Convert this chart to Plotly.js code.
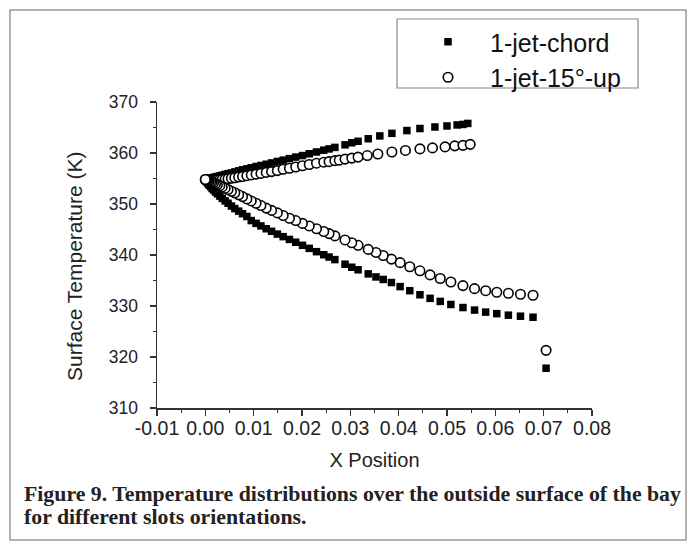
<!DOCTYPE html>
<html>
<head>
<meta charset="utf-8">
<script src="https://cdn.plot.ly/plotly-3.0.1.min.js"></script>
<style>html,body{margin:0;padding:0;background:#fff;}#chart{width:696px;height:548px;}</style>
</head>
<body>
<div id="chart"></div>
<script>
// ---- data ----
const seriesNames = ["1-jet-chord", "1-jet-15°-up"];

const chordUpperX = [0, 0.0001, 0.0002, 0.0004, 0.0006, 0.0008, 0.0011, 0.0014, 0.0017, 0.0021, 0.0025, 0.0030, 0.0035, 0.0041, 0.0047, 0.0054, 0.0061, 0.0069, 0.0077, 0.0086, 0.0095, 0.0105, 0.0115, 0.0126, 0.0137, 0.0149, 0.0161, 0.0174, 0.0187, 0.0201, 0.0215, 0.0230, 0.0245, 0.0256, 0.0268, 0.0289, 0.0303, 0.0316, 0.0337, 0.0361, 0.0386, 0.0417, 0.0444, 0.0475, 0.0500, 0.0521, 0.0533, 0.0543];
const chordUpperT = [354.8, 354.85, 354.85, 354.9, 354.95, 355.0, 355.1, 355.15, 355.2, 355.3, 355.4, 355.5, 355.65, 355.8, 355.95, 356.1, 356.3, 356.5, 356.7, 356.9, 357.1, 357.35, 357.55, 357.8, 358.05, 358.35, 358.6, 358.9, 359.2, 359.5, 359.85, 360.2, 360.55, 360.8, 361.1, 361.6, 362.0, 362.3, 362.8, 363.35, 363.85, 364.4, 364.8, 365.1, 365.3, 365.5, 365.6, 365.8];

const chordLowerX = [0, 0.0001, 0.0002, 0.0004, 0.0006, 0.0008, 0.0011, 0.0014, 0.0017, 0.0021, 0.0025, 0.0030, 0.0035, 0.0041, 0.0047, 0.0054, 0.0061, 0.0069, 0.0077, 0.0086, 0.0095, 0.0105, 0.0115, 0.0126, 0.0137, 0.0149, 0.0161, 0.0174, 0.0187, 0.0201, 0.0215, 0.0230, 0.0245, 0.0256, 0.0268, 0.0289, 0.0303, 0.0316, 0.0337, 0.0353, 0.0368, 0.0385, 0.0403, 0.0423, 0.0444, 0.0465, 0.0486, 0.0508, 0.0533, 0.0557, 0.0580, 0.0603, 0.0627, 0.0652, 0.0678, 0.0705];
const chordLowerT = [354.8, 354.6, 354.45, 354.2, 353.95, 353.7, 353.4, 353.05, 352.75, 352.35, 352.0, 351.55, 351.1, 350.6, 350.15, 349.6, 349.1, 348.6, 348.1, 347.55, 346.75, 346.2, 345.7, 345.15, 344.65, 344.1, 343.6, 343.05, 342.5, 341.9, 341.3, 340.65, 340.05, 339.6, 339.1, 338.2, 337.6, 337.1, 336.3, 335.7, 335.2, 334.6, 333.8, 333.0, 332.2, 331.5, 330.9, 330.3, 329.7, 329.2, 328.8, 328.5, 328.2, 328.0, 327.8, 317.8];

const up15UpperX = [0, 0.0001, 0.0002, 0.0004, 0.0006, 0.0008, 0.0011, 0.0014, 0.0017, 0.0021, 0.0025, 0.0030, 0.0035, 0.0041, 0.0047, 0.0054, 0.0061, 0.0069, 0.0077, 0.0086, 0.0095, 0.0105, 0.0115, 0.0126, 0.0137, 0.0149, 0.0161, 0.0174, 0.0187, 0.0201, 0.0215, 0.0230, 0.0245, 0.0256, 0.0268, 0.0277, 0.0289, 0.0303, 0.0316, 0.0335, 0.0357, 0.0386, 0.0414, 0.0444, 0.0470, 0.0496, 0.0516, 0.0533, 0.0548];
const up15UpperT = [354.8, 354.75, 354.75, 354.7, 354.7, 354.7, 354.7, 354.7, 354.7, 354.7, 354.7, 354.75, 354.8, 354.85, 354.95, 355.05, 355.15, 355.3, 355.4, 355.55, 355.7, 355.85, 356.0, 356.2, 356.35, 356.55, 356.8, 357.0, 357.25, 357.5, 357.75, 358.0, 358.2, 358.3, 358.5, 358.6, 358.8, 359.0, 359.2, 359.5, 359.8, 360.2, 360.5, 360.8, 361.0, 361.2, 361.4, 361.5, 361.7];

// lower surface listed from the trailing edge back to the leading edge
const up15LowerX = [0.0705, 0.0678, 0.0652, 0.0627, 0.0603, 0.0580, 0.0557, 0.0533, 0.0508, 0.0486, 0.0465, 0.0444, 0.0423, 0.0403, 0.0385, 0.0368, 0.0353, 0.0337, 0.0316, 0.0303, 0.0289, 0.0268, 0.0256, 0.0245, 0.0230, 0.0215, 0.0201, 0.0187, 0.0174, 0.0161, 0.0149, 0.0137, 0.0126, 0.0115, 0.0105, 0.0095, 0.0086, 0.0077, 0.0069, 0.0061, 0.0054, 0.0047, 0.0041, 0.0035, 0.0030, 0.0025, 0.0021, 0.0017, 0.0014, 0.0011, 0.0008, 0.0006, 0.0004, 0.0002, 0.0001, 0];
const up15LowerT = [321.3, 332.1, 332.3, 332.5, 332.7, 333.0, 333.4, 334.0, 334.7, 335.4, 336.1, 336.9, 337.7, 338.5, 339.2, 339.9, 340.5, 341.1, 341.9, 342.4, 342.95, 343.75, 344.2, 344.6, 345.15, 345.7, 346.2, 346.75, 347.2, 347.75, 348.25, 348.75, 349.2, 349.7, 350.15, 350.6, 351.0, 351.45, 351.8, 352.2, 352.5, 352.85, 353.1, 353.35, 353.6, 353.8, 353.95, 354.1, 354.25, 354.35, 354.5, 354.55, 354.65, 354.7, 354.75, 354.8];

const xTickVals = [-0.01, 0.00, 0.01, 0.02, 0.03, 0.04, 0.05, 0.06, 0.07, 0.08];
const xTickText = ["-0.01", "0.00", "0.01", "0.02", "0.03", "0.04", "0.05", "0.06", "0.07", "0.08"];
const yTickVals = [310, 320, 330, 340, 350, 360, 370];
const yTickText = ["310", "320", "330", "340", "350", "360", "370"];

const xTitle = "X Position";
const yTitle = "Surface Temperature (K)";
const captionLine1 = "Figure 9. Temperature distributions over the outside surface of the bay";
const captionLine2 = "for different slots orientations.";

// ---- chart ----
const FONT = "Liberation Sans, Arial, sans-serif";
const AX = "#333333";

const traces = [
  {
    type: "scatter", mode: "markers", name: seriesNames[0],
    x: chordUpperX.concat(chordLowerX), y: chordUpperT.concat(chordLowerT),
    marker: {symbol: "square", size: 7.5, color: "#000000", line: {width: 0}}
  },
  {
    type: "scatter", mode: "markers", name: seriesNames[1],
    x: up15UpperX.concat(up15LowerX), y: up15UpperT.concat(up15LowerT),
    marker: {symbol: "circle", size: 9.5, color: "#ffffff", line: {width: 1.6, color: "#000000"}}
  }
];

// plot area in pixels: left 157, right 592, top 102, bottom 408
const L = 157, R = 592, T = 102, B = 408;
const px = v => (v - L) / (R - L);
const py = v => (B - v) / (B - T);

const layout = {
  width: 696, height: 548,
  margin: {l: L, r: 696 - R, t: T, b: 548 - B, pad: 0},
  paper_bgcolor: "#ffffff", plot_bgcolor: "#ffffff",
  showlegend: true,
  font: {family: FONT, color: "#222222"},
  xaxis: {
    range: [-0.01, 0.08], tickmode: "array", tickvals: xTickVals, ticktext: xTickText,
    ticks: "outside", ticklen: 6, tickwidth: 1.2, tickcolor: AX,
    showline: true, linecolor: AX, linewidth: 1.5, showgrid: false, zeroline: false,
    minor: {tickmode: "linear", tick0: -0.01, dtick: 0.005, ticks: "outside", ticklen: 3, tickwidth: 1.2, tickcolor: AX, showgrid: false},
    tickfont: {family: FONT, size: 19.5, color: "#222222"},
    ticklabelstandoff: -4,
    title: {text: xTitle, font: {family: FONT, size: 20, color: "#222222"}, standoff: 15},
    fixedrange: true
  },
  yaxis: {
    range: [310, 370], tickmode: "array", tickvals: yTickVals, ticktext: yTickText,
    ticks: "outside", ticklen: 6, tickwidth: 1.2, tickcolor: AX,
    showline: true, linecolor: AX, linewidth: 1.5, showgrid: false, zeroline: false,
    minor: {tickmode: "linear", tick0: 310, dtick: 5, ticks: "outside", ticklen: 3, tickwidth: 1.2, tickcolor: AX, showgrid: false},
    tickfont: {family: FONT, size: 17.5, color: "#222222"},
    ticklabelstandoff: 8,
    fixedrange: true
  },
  legend: {
    x: px(406), y: py(19), xanchor: "left", yanchor: "top",
    bgcolor: "rgba(0,0,0,0)", borderwidth: 0, itemwidth: 74,
    font: {family: FONT, size: 25, color: "#111111"},
    itemclick: false, itemdoubleclick: false
  },
  shapes: [
    {type: "rect", xref: "paper", yref: "paper", x0: px(397), x1: px(638), y0: py(88), y1: py(19),
     line: {color: "#888888", width: 1.2}, fillcolor: "rgba(0,0,0,0)", layer: "below"},
    {type: "rect", xref: "paper", yref: "paper", x0: px(10), x1: px(686), y0: py(540), y1: py(10),
     line: {color: "#999999", width: 1.5}, fillcolor: "rgba(0,0,0,0)", layer: "below"}
  ],
  annotations: [
    {xref: "paper", yref: "paper", x: px(74), y: py(266), xanchor: "center", yanchor: "middle", showarrow: false,
     textangle: -90, text: yTitle, font: {family: FONT, size: 21, color: "#222222"}},
    {xref: "paper", yref: "paper", x: px(22), y: py(494), xanchor: "left", yanchor: "middle", showarrow: false,
     text: "<b>" + captionLine1 + "</b>", font: {family: "Liberation Serif, Times New Roman, serif", size: 21.8, color: "#222222"}},
    {xref: "paper", yref: "paper", x: px(22), y: py(517), xanchor: "left", yanchor: "middle", showarrow: false,
     text: "<b>" + captionLine2 + "</b>", font: {family: "Liberation Serif, Times New Roman, serif", size: 21.8, color: "#222222"}}
  ]
};

Plotly.newPlot("chart", traces, layout, {staticPlot: true, displayModeBar: false});
</script>
</body>
</html>
